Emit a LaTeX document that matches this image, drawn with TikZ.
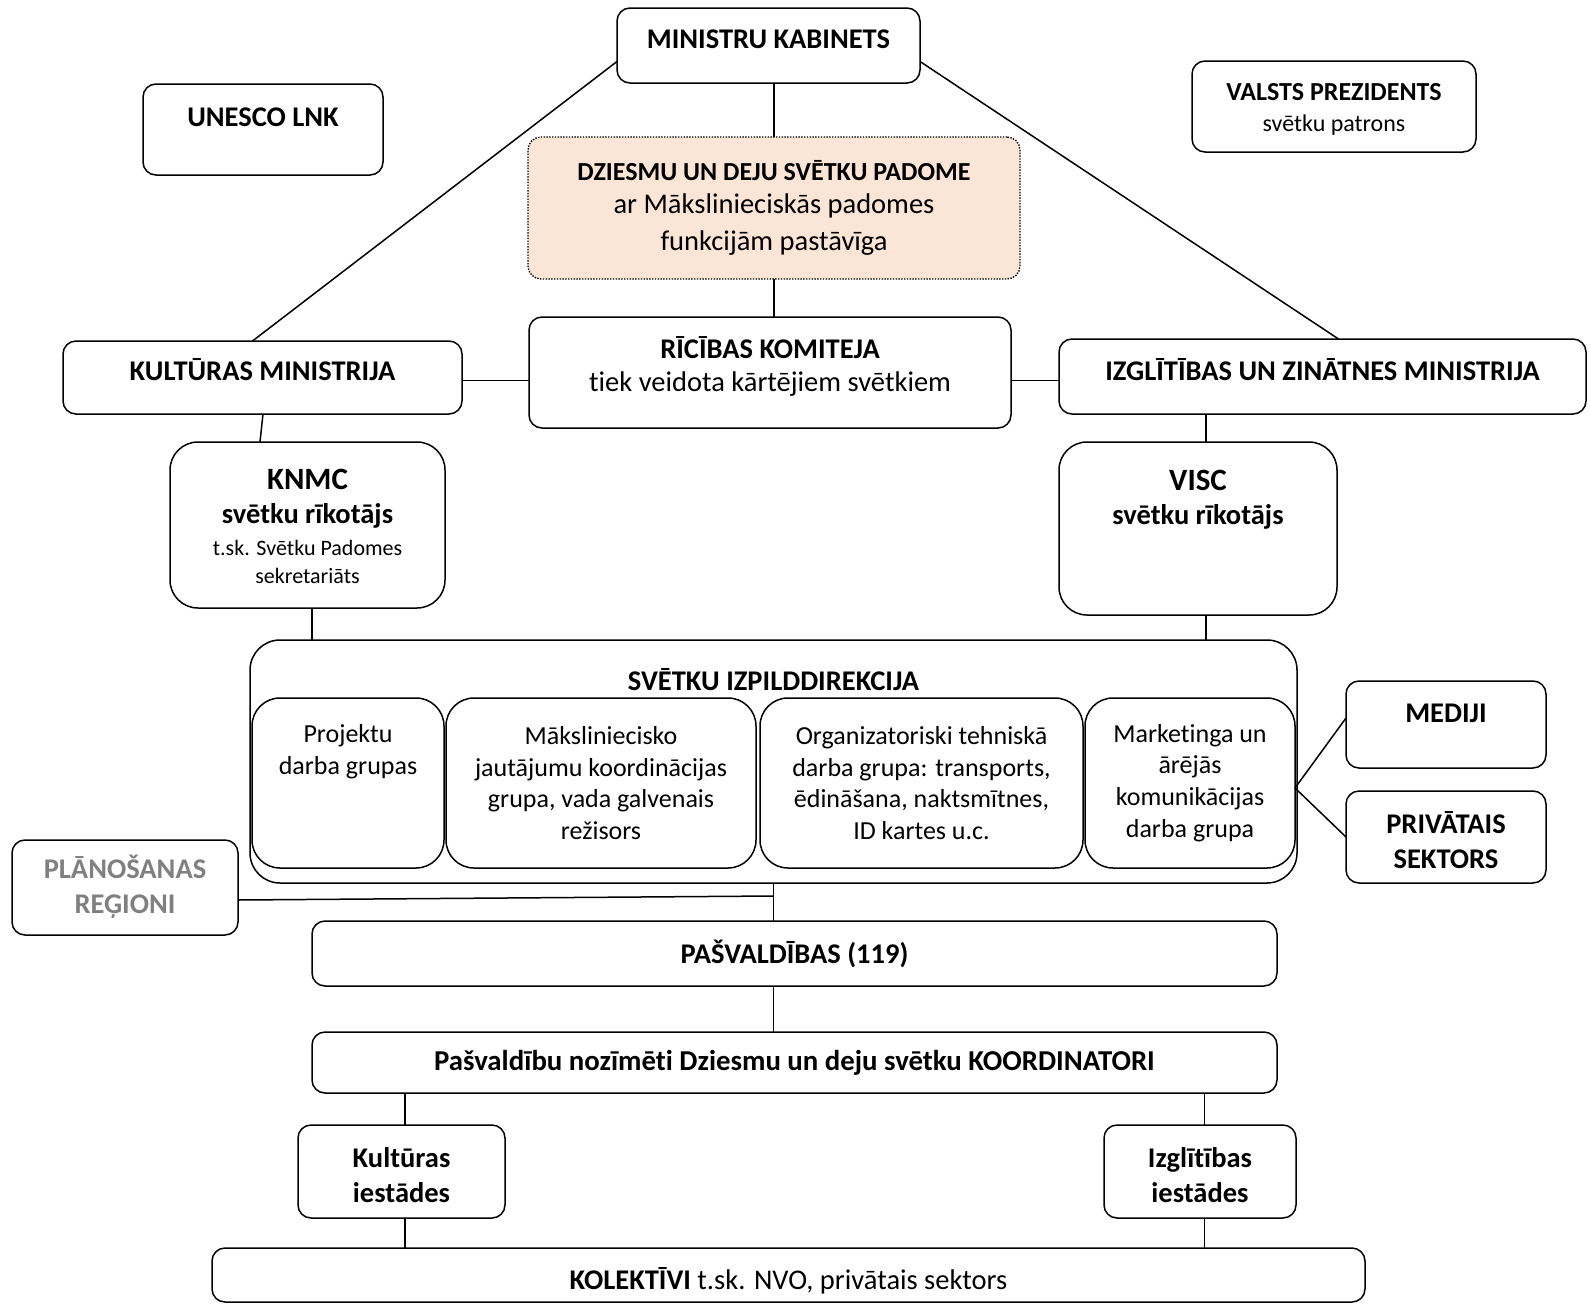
\documentclass[tikz,border=0pt]{standalone}
\usepackage{fontspec}
\setmainfont{Carlito}[Ligatures={NoCommon}]
\newcommand\fsz[2]{\fontsize{#1}{#2}\selectfont}
\definecolor{peach}{HTML}{FBE5D6}
\definecolor{gtxt}{HTML}{808080}
\begin{document}
\begin{tikzpicture}[x=1pt,y=-1pt,
  box/.style={draw, line width=1.5pt, rounded corners=13pt, inner sep=0pt, outer sep=0pt},
  bigbox/.style={box, rounded corners=28pt},
  txt/.style={align=center, inner sep=0pt, font=\fsz{28.5}{36}},
  ln/.style={line width=1.5pt}]
\useasboundingbox (0,0) rectangle (1591,1304);

% boxes
\node[box, minimum width=303, minimum height=75] (mk) at (768.5,45.5) {};
\node[box, minimum width=240, minimum height=91] (un) at (263,129.5) {};
\node[box, minimum width=284, minimum height=91] (vp) at (1334,106.5) {};
\node[box, fill=peach, line width=1.3pt, dash pattern=on 1.4pt off 1.4pt, minimum width=492, minimum height=142] (pad) at (774,208) {};
\node[box, minimum width=482, minimum height=111] (rk) at (770,372.5) {};
\node[box, minimum width=399, minimum height=73] (km) at (262.5,377.5) {};
\node[box, minimum width=527, minimum height=75] (izm) at (1322.5,376.5) {};
\node[bigbox, minimum width=275, minimum height=166] (knmc) at (307.5,525) {};
\node[bigbox, minimum width=278, minimum height=173] (visc) at (1198,528.5) {};
\node[bigbox, rounded corners=30pt, minimum width=1047, minimum height=243] (sid) at (773.5,761.5) {};
\node[bigbox, minimum width=192, minimum height=170] (p1) at (348,783) {};
\node[bigbox, minimum width=310, minimum height=170] (p2) at (601,783) {};
\node[bigbox, minimum width=323, minimum height=170] (p3) at (921.5,783) {};
\node[bigbox, minimum width=210, minimum height=170] (p4) at (1190,783) {};
\node[box, minimum width=200, minimum height=87] (med) at (1446,724.5) {};
\node[box, minimum width=200, minimum height=92] (priv) at (1446,837) {};
\node[box, minimum width=226, minimum height=95] (plan) at (125,887.5) {};
\node[box, minimum width=965, minimum height=65] (pasv) at (794.5,953.5) {};
\node[box, minimum width=965, minimum height=61] (koord) at (794.5,1062.5) {};
\node[box, minimum width=207, minimum height=93] (kult) at (401.5,1171.5) {};
\node[box, minimum width=192, minimum height=93] (izgl) at (1200,1171.5) {};
\node[box, minimum width=1153, minimum height=54] (kol) at (788.5,1275) {};

% texts
\node[txt] (mkT) at (768.5,39) {\bfseries MINISTRU KABINETS};
\node[txt] (unT) at (263,117) {\bfseries UNESCO LNK};
\node[txt, font=\fsz{26}{33}] (vpT) at (1334,92) {\bfseries VALSTS PREZIDENTS};
\node[txt, font=\fsz{24}{33}] (vpT2) at (1334,125) {svētku patrons};
\node[txt, font=\fsz{26}{33}] (padT) at (774,170.5) {\bfseries DZIESMU UN DEJU SVĒTKU PADOME};
\node[txt, font=\fsz{28.5}{36.5}] (padT2) at (774,224.5) {ar Mākslinieciskās padomes\\funkcijām pastāvīga};
\node[txt] (rkT) at (770,348) {\bfseries RĪCĪBAS KOMITEJA};
\node[txt] (rkT2) at (770,384.5) {tiek veidota kārtējiem svētkiem};
\node[txt] (kmT) at (262.5,370) {\bfseries KULTŪRAS MINISTRIJA};
\node[txt] (izmT) at (1322.5,370) {\bfseries IZGLĪTĪBAS UN ZINĀTNES MINISTRIJA};
\node[txt, font=\fsz{31}{36}] (knT) at (307.5,479) {\bfseries KNMC};
\node[txt] (knT2) at (307.5,515.5) {\bfseries svētku rīkotājs};
\node[txt, font=\fsz{22}{28.5}] (knT3) at (307.5,562) {t.sk. Svētku Padomes\\sekretariāts};
\node[txt, font=\fsz{31}{36}] (viT) at (1198,480) {\bfseries VISC};
\node[txt] (viT2) at (1198,516.5) {\bfseries svētku rīkotājs};
\node[txt] (sidT) at (773.5,680) {\bfseries SVĒTKU IZPILDDIREKCIJA};
\node[txt, font=\fsz{26}{31.8}] (p1T) at (348,752) {Projektu\\darba grupas};
\node[txt, font=\fsz{26}{31.8}] (p2T) at (601,783) {Māksliniecisko\\jautājumu koordinācijas\\grupa, vada galvenais\\režisors};
\node[txt, font=\fsz{26}{31.8}] (p3T) at (921.5,783) {Organizatoriski tehniskā\\darba grupa: transports,\\ēdināšana, naktsmītnes,\\ID kartes u.c.};
\node[txt, font=\fsz{26}{31.8}] (p4T) at (1190,783) {Marketinga un\\ārējās\\komunikācijas\\darba grupa};
\node[txt] (medT) at (1446,713) {\bfseries MEDIJI};
\node[txt, font=\fsz{28.5}{35.5}] (privT) at (1446,840) {\bfseries PRIVĀTAIS\\\bfseries SEKTORS};
\node[txt, font=\fsz{28.5}{35.5}, text=gtxt] (planT) at (125,887) {\bfseries PLĀNOŠANAS\\\bfseries REĢIONI};
\node[txt] (pasvT) at (794.5,954) {\bfseries PAŠVALDĪBAS (119)};
\node[txt, font=\fsz{28.8}{33}] (koordT) at (794.5,1062.5) {\bfseries Pašvaldību nozīmēti Dziesmu un deju svētku KOORDINATORI};
\node[txt, font=\fsz{28.5}{35}] (kultT) at (401.5,1175.5) {\bfseries Kultūras\\\bfseries iestādes};
\node[txt, font=\fsz{28.5}{35}] (izglT) at (1200,1175.5) {\bfseries Izglītības\\\bfseries iestādes};
\node[txt] (kolT) at (788.5,1280.5) {\textbf{KOLEKTĪVI} t.sk. NVO, privātais sektors};

% connectors
\draw[ln] (pad.north) -- (pad.north |- mk.south);
\draw[ln] (pad.south) -- (pad.south |- rk.north);
\draw[ln] ([yshift=-16pt]mk.west) -- ([xshift=-10pt]km.north);
\draw[ln] ([yshift=-16pt]mk.east) -- ([xshift=16pt]izm.north);
\draw[ln] ([yshift=-3pt]km.east) -- ([yshift=-3pt]km.east -| rk.west);
\draw[ln] ([yshift=-4pt]izm.west) -- ([yshift=-4pt]izm.west -| rk.east);
\draw[ln] ([xshift=0.5pt]km.south) -- ([xshift=-47.5pt]knmc.north);
\draw[ln] ([xshift=8pt]visc.north) -- ([xshift=8pt]visc.north |- izm.south);
\draw[ln] ([xshift=4.5pt]knmc.south) -- ([xshift=4.5pt]knmc.south |- sid.north);
\draw[ln] ([xshift=8pt]visc.south) -- ([xshift=8pt]visc.south |- sid.north);
\draw[ln] (sid.south) -- (sid.south |- pasv.north);
\coordinate (pj) at (773.5,896);
\draw[ln] ([yshift=-12.5pt]plan.east) -- (pj);
\draw[ln] ([xshift=-21pt]pasv.south) -- ([xshift=-21pt]koord.north);
\draw[ln] ([yshift=-5pt]p4.east) -- ([yshift=6.5pt]med.west);
\draw[ln] ([yshift=-5pt]p4.east) -- (priv.west);
\draw[ln] ([xshift=3.5pt]kult.north) -- ([xshift=3.5pt]kult.north |- koord.south);
\draw[ln] ([xshift=4.5pt]izgl.north) -- ([xshift=4.5pt]izgl.north |- koord.south);
\draw[ln] ([xshift=3.5pt]kult.south) -- ([xshift=3.5pt]kult.south |- kol.north);
\draw[ln] ([xshift=4.5pt]izgl.south) -- ([xshift=4.5pt]izgl.south |- kol.north);
\end{tikzpicture}
\end{document}
